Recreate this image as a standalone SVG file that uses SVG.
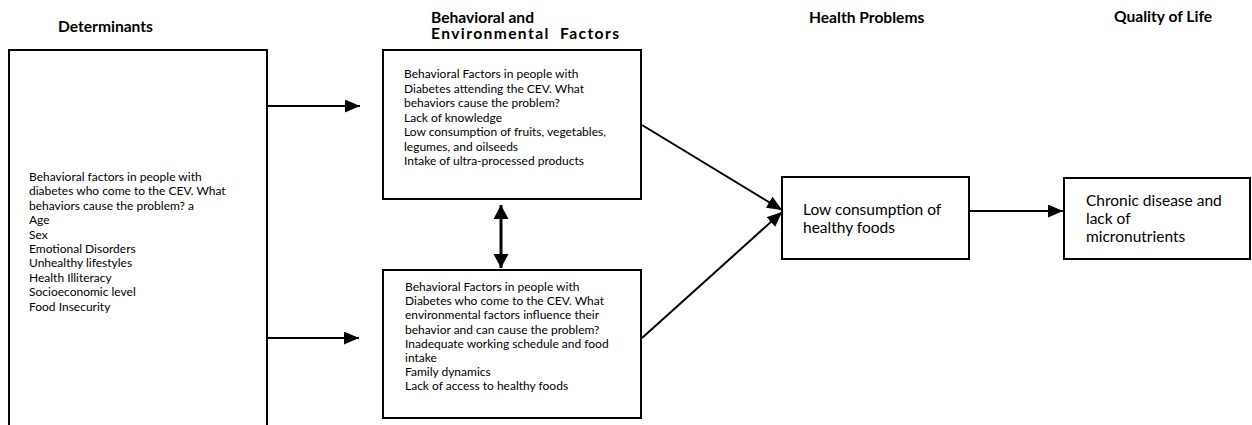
<svg xmlns="http://www.w3.org/2000/svg" width="1252" height="425" viewBox="0 0 1252 425">
<style>
.box{fill:#fff;stroke:#000;stroke-width:2}
.hd{font-family:Lato,"Open Sans",sans-serif;font-weight:bold;font-size:15.6px;fill:#000}
.tx{font-family:Lato,"Open Sans",sans-serif;font-size:12px;fill:#000}
.tb{font-family:Lato,"Open Sans",sans-serif;font-size:15.5px;fill:#000}
.ln{stroke:#000;stroke-width:2;fill:none}
</style>
<defs>
<marker id="ah" markerUnits="userSpaceOnUse" markerWidth="16" markerHeight="14" refX="15" refY="6.5" orient="auto">
<path d="M0,0 L15,6.5 L0,13 Z" fill="#000"/>
</marker>
<marker id="ahs" markerUnits="userSpaceOnUse" markerWidth="16" markerHeight="16" refX="14" refY="7.5" orient="auto-start-reverse">
<path d="M0,0 L14,7.5 L0,15 Z" fill="#000"/>
</marker>
</defs>
<g id="headings">
<text class="hd" x="58" y="32">Determinants</text>
<text class="hd" x="431" y="23">Behavioral and</text>
<text class="hd" x="431" y="39" textLength="188" lengthAdjust="spacing" xml:space="preserve">Environmental  Factors</text>
<text class="hd" x="809" y="23">Health Problems</text>
<text class="hd" x="1114" y="22">Quality of Life</text>
</g>
<g id="determinants">
<rect class="box" x="9" y="50" width="258" height="400"/>
<text class="tx">
<tspan x="29" y="181">Behavioral factors in people with</tspan>
<tspan x="29" y="195.4">diabetes who come to the CEV. What</tspan>
<tspan x="29" y="209.8">behaviors cause the problem? a</tspan>
<tspan x="29" y="224.2">Age</tspan>
<tspan x="29" y="238.6">Sex</tspan>
<tspan x="29" y="253">Emotional Disorders</tspan>
<tspan x="29" y="267.4">Unhealthy lifestyles</tspan>
<tspan x="29" y="281.8">Health Illiteracy</tspan>
<tspan x="29" y="296.2">Socioeconomic level</tspan>
<tspan x="29" y="310.6">Food Insecurity</tspan>
</text>
</g>
<g id="behavioral">
<rect class="box" x="383" y="50" width="258" height="149"/>
<text class="tx">
<tspan x="404" y="78">Behavioral Factors in people with</tspan>
<tspan x="404" y="92.5">Diabetes attending the CEV. What</tspan>
<tspan x="404" y="107">behaviors cause the problem?</tspan>
<tspan x="404" y="121.5">Lack of knowledge</tspan>
<tspan x="404" y="136">Low consumption of fruits, vegetables,</tspan>
<tspan x="404" y="150.5">legumes, and oilseeds</tspan>
<tspan x="404" y="165">Intake of ultra-processed products</tspan>
</text>
</g>
<g id="environmental">
<rect class="box" x="383" y="270" width="258" height="148"/>
<text class="tx">
<tspan x="405" y="291">Behavioral Factors in people with</tspan>
<tspan x="405" y="305.2">Diabetes who come to the CEV. What</tspan>
<tspan x="405" y="319.4">environmental factors influence their</tspan>
<tspan x="405" y="333.6">behavior and can cause the problem?</tspan>
<tspan x="405" y="347.8">Inadequate working schedule and food</tspan>
<tspan x="405" y="362">intake</tspan>
<tspan x="405" y="376.2">Family dynamics</tspan>
<tspan x="405" y="390.4">Lack of access to healthy foods</tspan>
</text>
</g>
<g id="health">
<rect class="box" x="782" y="177" width="187" height="82"/>
<text class="tb">
<tspan x="803" y="215">Low consumption of</tspan>
<tspan x="803" y="233">healthy foods</tspan>
</text>
</g>
<g id="quality">
<rect class="box" x="1064" y="178" width="186" height="81"/>
<text class="tb">
<tspan x="1086" y="206">Chronic disease and</tspan>
<tspan x="1086" y="224">lack of</tspan>
<tspan x="1086" y="242">micronutrients</tspan>
</text>
</g>
<g id="connectors">
<line class="ln" x1="267" y1="106" x2="360" y2="106" marker-end="url(#ah)"/>
<line class="ln" x1="267" y1="338" x2="359" y2="338" marker-end="url(#ah)"/>
<line class="ln" x1="642" y1="125" x2="782" y2="210" marker-end="url(#ah)"/>
<line class="ln" x1="642" y1="338" x2="782" y2="212" marker-end="url(#ah)"/>
<line class="ln" x1="969" y1="211" x2="1063" y2="211" marker-end="url(#ah)"/>
<line class="ln" style="stroke-width:3" x1="501" y1="205" x2="501" y2="268" marker-start="url(#ahs)" marker-end="url(#ahs)"/>
</g>
</svg>
